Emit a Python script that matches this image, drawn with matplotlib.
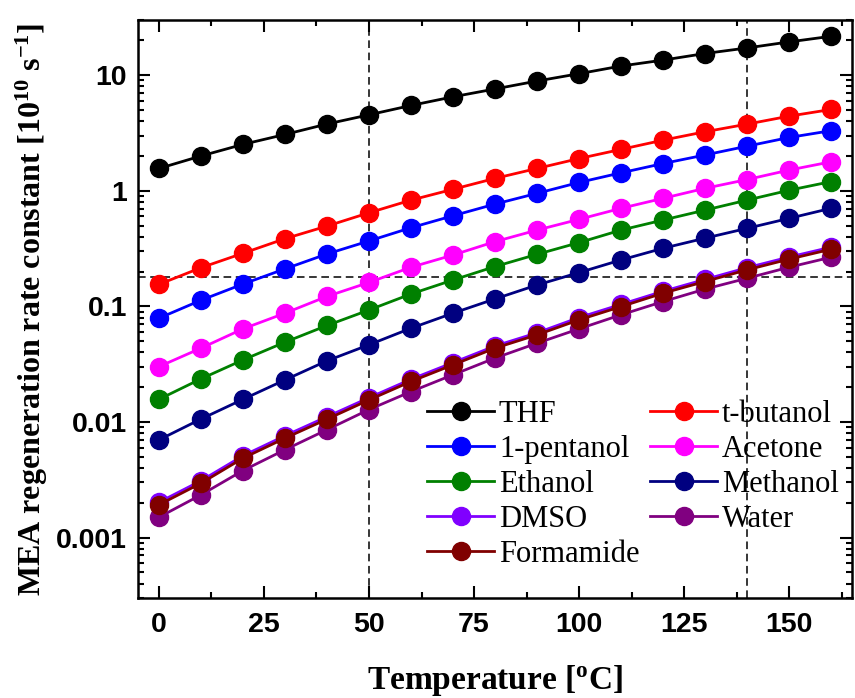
import matplotlib.pyplot as plt
import numpy as np

temperature = [0, 10, 20, 30, 40, 50, 60, 70, 80, 90, 100, 110, 120, 130, 140, 150, 160]

thf = [1.56, 2.0, 2.52, 3.07, 3.78, 4.54, 5.47, 6.5, 7.6, 8.9, 10.3, 12.0, 13.5, 15.4, 17.2, 19.4, 21.7]
t_butanol = [0.155, 0.216, 0.288, 0.385, 0.495, 0.645, 0.83, 1.03, 1.28, 1.56, 1.9, 2.28, 2.74, 3.24, 3.77, 4.42, 5.05]
pentanol = [0.079, 0.113, 0.156, 0.211, 0.284, 0.368, 0.479, 0.608, 0.767, 0.95, 1.18, 1.43, 1.72, 2.04, 2.43, 2.89, 3.31]
acetone = [0.0301, 0.0435, 0.0639, 0.0873, 0.122, 0.161, 0.218, 0.278, 0.363, 0.457, 0.566, 0.705, 0.86, 1.05, 1.25, 1.51, 1.78]
ethanol = [0.0157, 0.0236, 0.0344, 0.049, 0.0683, 0.093, 0.128, 0.169, 0.221, 0.282, 0.356, 0.457, 0.558, 0.68, 0.83, 1.01, 1.2]
methanol = [0.0070, 0.0106, 0.0157, 0.0231, 0.0338, 0.0465, 0.0647, 0.0873, 0.116, 0.153, 0.196, 0.252, 0.318, 0.389, 0.473, 0.577, 0.705]
dmso = [0.00202, 0.0031, 0.0051, 0.0076, 0.0111, 0.0162, 0.0234, 0.0326, 0.0454, 0.059, 0.080, 0.104, 0.135, 0.171, 0.216, 0.267, 0.325]
water = [0.0015, 0.00234, 0.0038, 0.00575, 0.00857, 0.0128, 0.0183, 0.0256, 0.0357, 0.048, 0.0639, 0.0845, 0.110, 0.141, 0.175, 0.218, 0.266]
formamide = [0.00192, 0.00295, 0.00486, 0.00724, 0.01057, 0.0155, 0.0224, 0.0312, 0.0435, 0.0567, 0.0764, 0.0995, 0.130, 0.164, 0.207, 0.256, 0.312]

series = [
    ('THF', thf, 'black'),
    ('t-butanol', t_butanol, '#ff0000'),
    ('1-pentanol', pentanol, '#0000ff'),
    ('Acetone', acetone, '#ff00ff'),
    ('Ethanol', ethanol, '#008000'),
    ('Methanol', methanol, '#000080'),
    ('DMSO', dmso, '#8000ff'),
    ('Water', water, '#800080'),
    ('Formamide', formamide, '#800000'),
]

fig = plt.figure(figsize=(8.55, 6.98), dpi=100)
ax = fig.add_axes([0.1614, 0.1433, 0.8351, 0.828])

ax.axvline(50, color='black', lw=1.1, ls=(0, (5, 3)), zorder=1)
ax.axvline(140, color='black', lw=1.1, ls=(0, (5, 3)), zorder=1)
ax.axhline(0.18, color='black', lw=1.1, ls=(0, (5, 3)), zorder=1)

lines = {}
for name, vals, col in series:
    ln, = ax.plot(temperature, vals, '-o', color=col, lw=2.0, markersize=13, label=name, zorder=3)
    lines[name] = ln

ax.set_yscale('log')
ax.set_xlim(-5, 165)
ax.set_ylim(3e-4, 30)
ax.set_xticks([0, 25, 50, 75, 100, 125, 150])
ax.set_xticks(np.arange(12.5, 165, 25), minor=True)
ax.set_yticks([0.001, 0.01, 0.1, 1, 10])
ax.set_yticklabels(['0.001', '0.01', '0.1', '1', '10'])

for s in ax.spines.values():
    s.set_linewidth(1.8)
ax.tick_params(which='both', direction='in', top=True, right=True, width=1.5)
ax.tick_params(which='major', length=8.5)
ax.tick_params(which='minor', length=4.3)
ax.tick_params(axis='x', which='major', pad=10)
ax.tick_params(axis='y', which='major', pad=8)
for lab in ax.get_xticklabels() + ax.get_yticklabels():
    lab.set_fontfamily('Liberation Sans')
    lab.set_fontweight('bold')
    lab.set_fontsize(20.5)

ax.set_xlabel('Temperature [$\\mathregular{^o}$C]', family='Liberation Serif', fontweight='bold',
              fontsize=24, labelpad=18)
ax.set_ylabel('MEA regeneration rate constant [10$\\mathregular{^{10}}$ s$\\mathregular{^{-1}}$]',
              family='Liberation Serif', fontweight='bold', fontsize=23, labelpad=4)

order = ['THF', '1-pentanol', 'Ethanol', 'DMSO', 'Formamide', 't-butanol', 'Acetone', 'Methanol', 'Water']
ax.legend([lines[n] for n in order], order, ncol=2, loc='upper left', bbox_to_anchor=(0.405, 0.343),
          frameon=False, prop={'family': 'Liberation Serif', 'size': 22}, handlelength=2.2,
          handletextpad=0.15, columnspacing=0.35, labelspacing=0.2, borderpad=0, borderaxespad=0)

fig.savefig('out.png', dpi=100)
